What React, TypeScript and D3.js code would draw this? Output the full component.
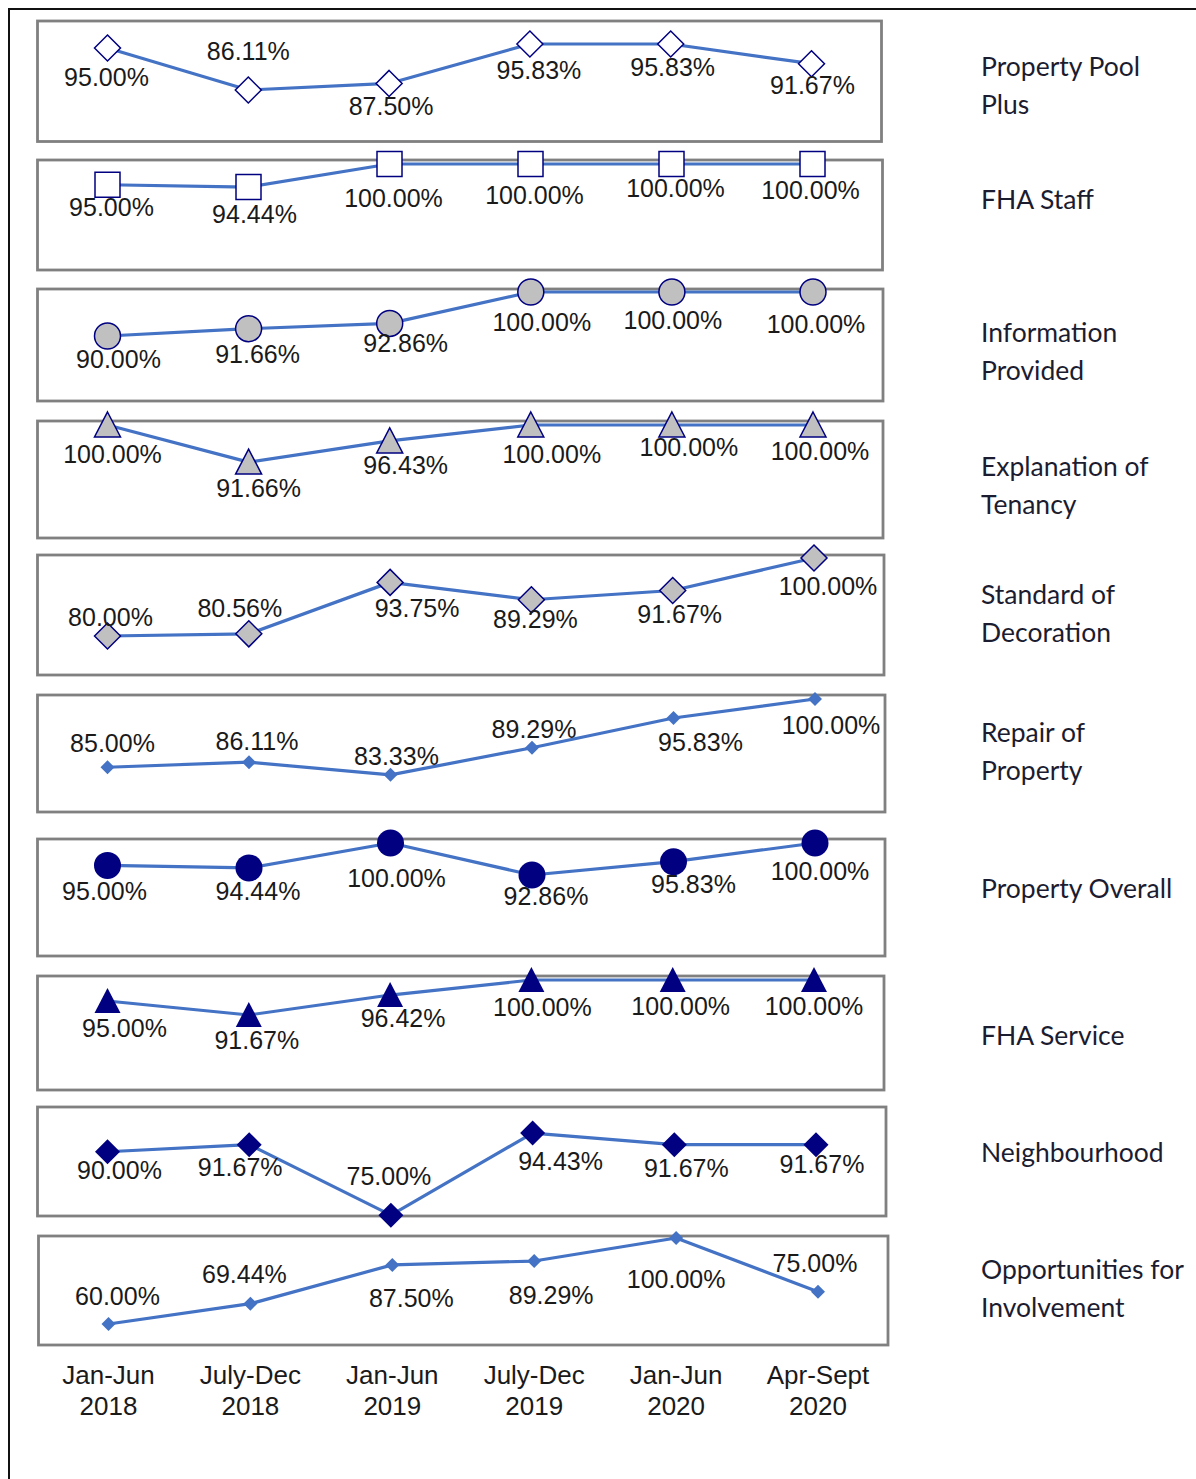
import React from "react";
import * as d3 from "d3";

// ---------- DATA ----------
const periods = ["Jan-Jun 2018", "July-Dec 2018", "Jan-Jun 2019", "July-Dec 2019", "Jan-Jun 2020", "Apr-Sept 2020"];
const periodLines = [["Jan-Jun", "2018"], ["July-Dec", "2018"], ["Jan-Jun", "2019"], ["July-Dec", "2019"], ["Jan-Jun", "2020"], ["Apr-Sept", "2020"]];

const categories = [
  "Property Pool Plus", "FHA Staff", "Information Provided", "Explanation of Tenancy", "Standard of Decoration",
  "Repair of Property", "Property Overall", "FHA Service", "Neighbourhood", "Opportunities for Involvement",
];
const categoryLines = [
  ["Property Pool", "Plus"], ["FHA Staff"], ["Information", "Provided"], ["Explanation of", "Tenancy"],
  ["Standard of", "Decoration"], ["Repair of", "Property"], ["Property Overall"], ["FHA Service"],
  ["Neighbourhood"], ["Opportunities for", "Involvement"],
];

const propertyPoolPlus = [95.0, 86.11, 87.5, 95.83, 95.83, 91.67];
const fhaStaff = [95.0, 94.44, 100.0, 100.0, 100.0, 100.0];
const informationProvided = [90.0, 91.66, 92.86, 100.0, 100.0, 100.0];
const explanationOfTenancy = [100.0, 91.66, 96.43, 100.0, 100.0, 100.0];
const standardOfDecoration = [80.0, 80.56, 93.75, 89.29, 91.67, 100.0];
const repairOfProperty = [85.0, 86.11, 83.33, 89.29, 95.83, 100.0];
const propertyOverall = [95.0, 94.44, 100.0, 92.86, 95.83, 100.0];
const fhaService = [95.0, 91.67, 96.42, 100.0, 100.0, 100.0];
const neighbourhood = [90.0, 91.67, 75.0, 94.43, 91.67, 91.67];
const opportunitiesForInvolvement = [60.0, 69.44, 87.5, 89.29, 100.0, 75.0];

const series = [
  propertyPoolPlus, fhaStaff, informationProvided, explanationOfTenancy, standardOfDecoration,
  repairOfProperty, propertyOverall, fhaService, neighbourhood, opportunitiesForInvolvement,
];
const axisMin = [80, 80, 80, 80, 80, 80, 80, 80, 80, 60];
const axisMax = [100, 100, 100, 100, 100, 100, 100, 100, 100, 100];

// ---------- LAYOUT / STYLE ----------
const W = 1196;
const H = 1479;
const LINE = "#4472C4";
const NAVY = "#000080";
const GRAY = "#C0C0C0";
const BORDER = "#808080";
const TEXT = "#1a1a1a";

// panel boxes: [x0, x1, y0, y1]
const boxes = [
  [37.5, 881.5, 21, 141.5],
  [37.5, 882.5, 160, 270],
  [37.5, 883, 289, 401],
  [37.5, 883, 421, 538],
  [37.5, 884, 555, 675],
  [37.5, 885, 695, 812],
  [37.5, 885, 839, 956],
  [37.5, 884, 976, 1090],
  [37.5, 886, 1107, 1216],
  [38.5, 888, 1236, 1345],
];
// pixel range of each panel's value axis [at min, at max]
const yRanges = [
  [118.9, 24.3],
  [247, 164],
  [380, 292],
  [514, 425],
  [636, 558],
  [790, 699],
  [932.6, 843],
  [1064, 980],
  [1194, 1109.5],
  [1324, 1238],
];
const markers = [
  { shape: "diamond", r: 13, fill: "#fff", stroke: NAVY },
  { shape: "square", r: 12.5, fill: "#fff", stroke: NAVY },
  { shape: "circle", r: 13, fill: GRAY, stroke: NAVY },
  { shape: "triangle", r: 13, fill: GRAY, stroke: NAVY },
  { shape: "diamond", r: 13, fill: GRAY, stroke: NAVY },
  { shape: "diamond", r: 7, fill: LINE, stroke: "none" },
  { shape: "circle", r: 13.5, fill: NAVY, stroke: "none" },
  { shape: "triangle", r: 13, fill: NAVY, stroke: "none" },
  { shape: "diamond", r: 12.5, fill: NAVY, stroke: "none" },
  { shape: "diamond", r: 7, fill: LINE, stroke: "none" },
];
// data label offsets from the point [dx, dy] (to text centre)
const labelOffsets = [
  [[-1, 29], [0, -39], [2, 23], [9, 26], [2, 23], [1, 21]],
  [[4, 22], [6, 27], [4, 34], [4, 31], [4, 24], [-2, 26]],
  [[11, 23], [9, 25], [16, 20], [11, 30], [1, 28], [3, 32]],
  [[5, 29], [10, 26], [16, 24], [21, 29], [17, 22], [7, 26]],
  [[3, -19], [-9, -26], [27, 26], [4, 19], [7, 24], [14, 28]],
  [[5, -24], [8, -21], [6, -19], [2, -19], [27, 24], [16, 26]],
  [[-3, 26], [9, 23], [6, 35], [14, 21], [20, 22], [5, 28]],
  [[17, 27], [8, 25], [13, 23], [11, 27], [8, 26], [0, 26]],
  [[12, 18], [-9, 22], [-2, -39], [28, 28], [12, 23], [6, 19]],
  [[9, -28], [-6, -30], [19, 33], [17, 34], [0, 41], [-3, -29]],
];
const catLabelY = [76, 209, 342, 476, 604, 742, 898, 1045, 1162, 1279];
const catLineGap = 38;

const fmt = d3.format(".2f");

function markerPath(shape: string, r: number): string {
  if (shape === "diamond") return `M0,${-r}L${r},0L0,${r}L${-r},0Z`;
  if (shape === "square") return `M${-r},${-r}H${r}V${r}H${-r}Z`;
  if (shape === "triangle") return `M0,${-r}L${r},${r - 1}L${-r},${r - 1}Z`;
  return (d3.symbol().type(d3.symbolCircle).size(Math.PI * r * r)() as string) || "";
}

export default function App() {
  const panels = series.map((vals, p) => {
    const [x0, x1, y0, y1] = boxes[p];
    const x = d3.scalePoint<number>().domain(d3.range(periods.length)).range([x0 + 70, x1 - 70]);
    const y = d3.scaleLinear().domain([axisMin[p], axisMax[p]]).range(yRanges[p]);
    const line = d3.line<number>().x((_, i) => x(i) as number).y((v) => y(v));
    return { vals, x, y, line: line(vals) as string, box: [x0, x1, y0, y1] };
  });
  const lastX = panels[panels.length - 1].x;

  return (
    <svg width={W} height={H} style={{ position: "absolute", left: 0, top: 0, background: "#fff" }}
      fontFamily="'Liberation Sans', Arial, sans-serif">
      {/* outer frame */}
      <line x1={9} x2={W} y1={9} y2={9} stroke="#111" strokeWidth={2} />
      <line x1={9} x2={9} y1={8} y2={H} stroke="#111" strokeWidth={2} />

      {panels.map((pn, p) => (
        <rect key={"b" + p} x={pn.box[0]} y={pn.box[2]} width={pn.box[1] - pn.box[0]} height={pn.box[3] - pn.box[2]}
          fill="#fff" stroke={BORDER} strokeWidth={2.8} />
      ))}

      {panels.map((pn, p) => (
        <g key={"s" + p}>
          <path d={pn.line} fill="none" stroke={LINE} strokeWidth={3.2} strokeLinejoin="round" />
          {pn.vals.map((v, i) => (
            <path key={i} d={markerPath(markers[p].shape, markers[p].r)}
              transform={`translate(${pn.x(i)},${pn.y(v)})`}
              fill={markers[p].fill} stroke={markers[p].stroke} strokeWidth={1.5} />
          ))}
        </g>
      ))}

      {panels.map((pn, p) => (
        <g key={"l" + p} fontSize={25} fill={TEXT} textAnchor="middle">
          {pn.vals.map((v, i) => (
            <text key={i} x={(pn.x(i) as number) + labelOffsets[p][i][0]} y={pn.y(v) + labelOffsets[p][i][1]}
              dominantBaseline="central">{fmt(v) + "%"}</text>
          ))}
        </g>
      ))}

      {/* x axis labels */}
      <g fontSize={26} fill={TEXT} textAnchor="middle">
        {periodLines.map((lines, i) => (
          <g key={i}>
            {lines.map((t, j) => (
              <text key={j} x={lastX(i)} y={1375 + j * 31} dominantBaseline="central">{t}</text>
            ))}
          </g>
        ))}
      </g>

      {/* category labels */}
      <g fontSize={26.5} fill="#1c1c30" fontFamily="Lato, 'Open Sans', sans-serif">
        {categoryLines.map((lines, p) => (
          <text key={p} x={981} y={catLabelY[p]} aria-label={categories[p]}>
            {lines.map((t, j) => (
              <tspan key={j} x={981} y={catLabelY[p] + j * catLineGap}>{t}</tspan>
            ))}
          </text>
        ))}
      </g>
    </svg>
  );
}
